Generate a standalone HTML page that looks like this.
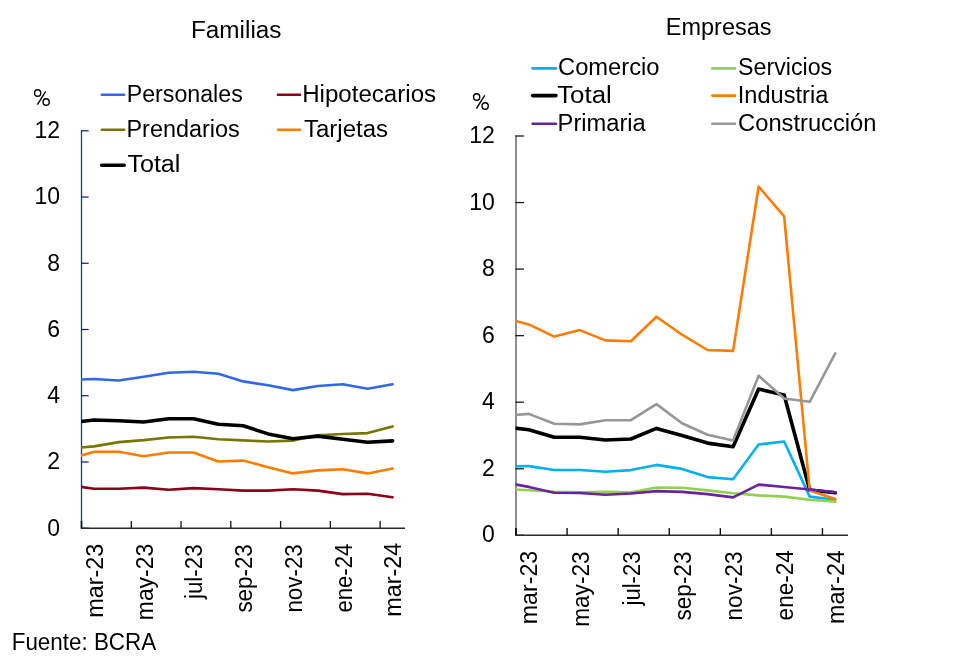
<!DOCTYPE html>
<html><head><meta charset="utf-8"><title>Chart</title>
<style>html,body{margin:0;padding:0;background:#fff;width:960px;height:667px;overflow:hidden}svg{display:block;will-change:transform}text{font-family:"Liberation Sans",sans-serif;fill:#000}</style>
</head><body>
<svg width="960" height="667" viewBox="0 0 960 667">
<rect width="960" height="667" fill="#fff"/>
<g fill="none" stroke="#000" stroke-width="1.4"><ellipse cx="37.65" cy="93.0" rx="3.1" ry="3.3"/><ellipse cx="46.15" cy="102.0" rx="3.1" ry="3.3"/><line x1="37.4" y1="104.6" x2="45.7" y2="91.4"/></g>
<g transform="translate(439,4)"><g fill="none" stroke="#000" stroke-width="1.4"><ellipse cx="37.65" cy="93.0" rx="3.1" ry="3.3"/><ellipse cx="46.15" cy="102.0" rx="3.1" ry="3.3"/><line x1="37.4" y1="104.6" x2="45.7" y2="91.4"/></g></g>
<line x1="81.5" y1="130.20" x2="81.5" y2="528.20" stroke="#1F3B7A" stroke-width="1.3"/>
<text x="60.0" y="535.5" font-size="23" text-anchor="end" >0</text>
<line x1="81.0" y1="528.20" x2="88.70" y2="528.20" stroke="#0C2068" stroke-width="1.2"/>
<text x="60.0" y="469.27" font-size="23" text-anchor="end" >2</text>
<line x1="81.0" y1="461.97" x2="88.70" y2="461.97" stroke="#0C2068" stroke-width="1.2"/>
<text x="60.0" y="403.03" font-size="23" text-anchor="end" >4</text>
<line x1="81.0" y1="395.73" x2="88.70" y2="395.73" stroke="#0C2068" stroke-width="1.2"/>
<text x="60.0" y="336.8" font-size="23" text-anchor="end" >6</text>
<line x1="81.0" y1="329.50" x2="88.70" y2="329.50" stroke="#0C2068" stroke-width="1.2"/>
<text x="60.0" y="270.57" font-size="23" text-anchor="end" >8</text>
<line x1="81.0" y1="263.27" x2="88.70" y2="263.27" stroke="#0C2068" stroke-width="1.2"/>
<text x="60.0" y="204.33" font-size="23" text-anchor="end" >10</text>
<line x1="81.0" y1="197.03" x2="88.70" y2="197.03" stroke="#0C2068" stroke-width="1.2"/>
<text x="60.0" y="138.1" font-size="23" text-anchor="end" >12</text>
<line x1="81.0" y1="130.80" x2="88.70" y2="130.80" stroke="#0C2068" stroke-width="1.2"/>
<line x1="80.80" y1="528.20" x2="405.00" y2="528.20" stroke="#2B2B2B" stroke-width="1.4"/>
<line x1="81.50" y1="521.00" x2="81.50" y2="528.20" stroke="#111" stroke-width="1.3"/>
<line x1="131.27" y1="521.00" x2="131.27" y2="528.20" stroke="#111" stroke-width="1.3"/>
<line x1="181.04" y1="521.00" x2="181.04" y2="528.20" stroke="#111" stroke-width="1.3"/>
<line x1="230.81" y1="521.00" x2="230.81" y2="528.20" stroke="#111" stroke-width="1.3"/>
<line x1="280.58" y1="521.00" x2="280.58" y2="528.20" stroke="#111" stroke-width="1.3"/>
<line x1="330.35" y1="521.00" x2="330.35" y2="528.20" stroke="#111" stroke-width="1.3"/>
<line x1="380.12" y1="521.00" x2="380.12" y2="528.20" stroke="#111" stroke-width="1.3"/>
<line x1="81.5" y1="521.00" x2="81.5" y2="528.20" stroke="#111" stroke-width="1.4"/>
<line x1="516.0" y1="135.40" x2="516.0" y2="535.30" stroke="#727272" stroke-width="1.6"/>
<text x="494.9" y="542.3" font-size="23" text-anchor="end" >0</text>
<line x1="515.4" y1="535.30" x2="523.90" y2="535.30" stroke="#1A1A1A" stroke-width="1.3"/>
<text x="494.9" y="475.75" font-size="23" text-anchor="end" >2</text>
<line x1="515.4" y1="468.75" x2="523.90" y2="468.75" stroke="#1A1A1A" stroke-width="1.3"/>
<text x="494.9" y="409.2" font-size="23" text-anchor="end" >4</text>
<line x1="515.4" y1="402.20" x2="523.90" y2="402.20" stroke="#1A1A1A" stroke-width="1.3"/>
<text x="494.9" y="342.65" font-size="23" text-anchor="end" >6</text>
<line x1="515.4" y1="335.65" x2="523.90" y2="335.65" stroke="#1A1A1A" stroke-width="1.3"/>
<text x="494.9" y="276.1" font-size="23" text-anchor="end" >8</text>
<line x1="515.4" y1="269.10" x2="523.90" y2="269.10" stroke="#1A1A1A" stroke-width="1.3"/>
<text x="494.9" y="209.55" font-size="23" text-anchor="end" >10</text>
<line x1="515.4" y1="202.55" x2="523.90" y2="202.55" stroke="#1A1A1A" stroke-width="1.3"/>
<text x="494.9" y="143.0" font-size="23" text-anchor="end" >12</text>
<line x1="515.4" y1="136.00" x2="523.90" y2="136.00" stroke="#1A1A1A" stroke-width="1.3"/>
<line x1="515.30" y1="535.30" x2="848.00" y2="535.30" stroke="#2B2B2B" stroke-width="1.4"/>
<line x1="516.00" y1="528.10" x2="516.00" y2="535.30" stroke="#111" stroke-width="1.4"/>
<line x1="567.08" y1="528.10" x2="567.08" y2="535.30" stroke="#111" stroke-width="1.4"/>
<line x1="618.15" y1="528.10" x2="618.15" y2="535.30" stroke="#111" stroke-width="1.4"/>
<line x1="669.23" y1="528.10" x2="669.23" y2="535.30" stroke="#111" stroke-width="1.4"/>
<line x1="720.31" y1="528.10" x2="720.31" y2="535.30" stroke="#111" stroke-width="1.4"/>
<line x1="771.38" y1="528.10" x2="771.38" y2="535.30" stroke="#111" stroke-width="1.4"/>
<line x1="822.46" y1="528.10" x2="822.46" y2="535.30" stroke="#111" stroke-width="1.4"/>
<line x1="516.0" y1="528.10" x2="516.0" y2="535.30" stroke="#111" stroke-width="1.6"/>
<text id="t_L0" x="0" y="0" font-size="23.5" textLength="74.00" lengthAdjust="spacingAndGlyphs" transform="translate(102.74,617.80) rotate(-90)">mar-23</text>
<text id="t_R0" x="0" y="0" font-size="23.5" textLength="73.40" lengthAdjust="spacingAndGlyphs" transform="translate(537.47,624.20) rotate(-90)">mar-23</text>
<text id="t_L1" x="0" y="0" font-size="23.5" textLength="76.40" lengthAdjust="spacingAndGlyphs" transform="translate(152.51,620.20) rotate(-90)">may-23</text>
<text id="t_R1" x="0" y="0" font-size="23.5" textLength="75.40" lengthAdjust="spacingAndGlyphs" transform="translate(588.55,626.80) rotate(-90)">may-23</text>
<text id="t_L2" x="0" y="0" font-size="23.5" textLength="54.60" lengthAdjust="spacingAndGlyphs" transform="translate(202.28,599.00) rotate(-90)">jul-23</text>
<text id="t_R2" x="0" y="0" font-size="23.5" textLength="53.80" lengthAdjust="spacingAndGlyphs" transform="translate(639.62,605.40) rotate(-90)">jul-23</text>
<text id="t_L3" x="0" y="0" font-size="23.5" textLength="68.40" lengthAdjust="spacingAndGlyphs" transform="translate(252.05,612.60) rotate(-90)">sep-23</text>
<text id="t_R3" x="0" y="0" font-size="23.5" textLength="68.80" lengthAdjust="spacingAndGlyphs" transform="translate(690.70,620.40) rotate(-90)">sep-23</text>
<text id="t_L4" x="0" y="0" font-size="23.5" textLength="68.40" lengthAdjust="spacingAndGlyphs" transform="translate(301.82,612.60) rotate(-90)">nov-23</text>
<text id="t_R4" x="0" y="0" font-size="23.5" textLength="68.80" lengthAdjust="spacingAndGlyphs" transform="translate(741.78,620.40) rotate(-90)">nov-23</text>
<text id="t_L5" x="0" y="0" font-size="23.5" textLength="69.00" lengthAdjust="spacingAndGlyphs" transform="translate(351.59,612.60) rotate(-90)">ene-24</text>
<text id="t_R5" x="0" y="0" font-size="23.5" textLength="70.20" lengthAdjust="spacingAndGlyphs" transform="translate(792.85,620.40) rotate(-90)">ene-24</text>
<text id="t_L6" x="0" y="0" font-size="23.5" textLength="74.20" lengthAdjust="spacingAndGlyphs" transform="translate(401.36,616.80) rotate(-90)">mar-24</text>
<text id="t_R6" x="0" y="0" font-size="23.5" textLength="73.80" lengthAdjust="spacingAndGlyphs" transform="translate(843.93,624.00) rotate(-90)">mar-24</text>
<defs><clipPath id="cl"><rect x="81.10" y="100" width="340" height="440"/></clipPath><clipPath id="cr"><rect x="515.60" y="100" width="340" height="440"/></clipPath></defs>
<g fill="none" stroke-linejoin="round" stroke-linecap="round" clip-path="url(#cl)">
<polyline points="78.50,379.62 93.94,379.00 118.83,380.50 143.71,376.80 168.60,372.70 193.48,371.70 218.37,373.80 243.25,381.40 268.13,385.30 293.02,390.10 317.90,386.00 342.79,384.30 367.67,388.70 392.56,384.30" stroke="#3268E8" stroke-width="2.6"/>
<polyline points="78.50,486.57 93.94,488.80 118.83,488.80 143.71,487.60 168.60,489.70 193.48,488.10 218.37,489.30 243.25,490.60 268.13,490.60 293.02,489.30 317.90,490.60 342.79,494.10 367.67,493.80 392.56,497.30" stroke="#8C0019" stroke-width="2.6"/>
<polyline points="78.50,447.64 93.94,446.40 118.83,442.10 143.71,440.10 168.60,437.50 193.48,436.80 218.37,439.30 243.25,440.40 268.13,441.50 293.02,440.60 317.90,435.30 342.79,434.00 367.67,433.10 392.56,426.40" stroke="#767600" stroke-width="2.6"/>
<polyline points="78.50,456.39 93.94,451.80 118.83,451.80 143.71,456.20 168.60,452.50 193.48,452.50 218.37,461.50 243.25,460.60 268.13,467.20 293.02,473.40 317.90,470.40 342.79,469.30 367.67,473.40 392.56,468.40" stroke="#FF7C00" stroke-width="2.6"/>
<polyline points="78.50,421.86 93.94,420.00 118.83,420.70 143.71,422.00 168.60,418.80 193.48,418.80 218.37,424.20 243.25,425.80 268.13,433.90 293.02,438.80 317.90,436.10 342.79,439.20 367.67,442.30 392.56,440.90" stroke="#000000" stroke-width="3.6"/>
</g>
<g fill="none" stroke-linejoin="round" stroke-linecap="round" clip-path="url(#cr)">
<polyline points="513.00,466.22 528.77,466.10 554.31,470.00 579.85,470.00 605.38,471.80 630.92,470.10 656.46,464.90 682.00,468.90 707.54,477.10 733.08,479.30 758.62,444.50 784.15,441.50 809.69,496.60 835.23,499.80" stroke="#00B0F0" stroke-width="2.6"/>
<polyline points="513.00,489.44 528.77,490.30 554.31,491.70 579.85,492.30 605.38,491.90 630.92,492.20 656.46,487.50 682.00,487.80 707.54,490.40 733.08,493.30 758.62,495.40 784.15,496.60 809.69,499.80 835.23,501.60" stroke="#92D050" stroke-width="2.6"/>
<polyline points="513.00,427.95 528.77,429.80 554.31,437.30 579.85,437.30 605.38,440.00 630.92,439.00 656.46,428.40 682.00,435.60 707.54,443.10 733.08,446.70 758.62,389.00 784.15,395.00 809.69,490.00 835.23,492.80" stroke="#000000" stroke-width="3.6"/>
<polyline points="513.00,320.20 528.77,324.40 554.31,336.60 579.85,330.10 605.38,340.40 630.92,341.20 656.46,316.70 682.00,334.70 707.54,350.00 733.08,350.90 758.62,186.50 784.15,216.40 809.69,490.50 835.23,499.10" stroke="#FF7C00" stroke-width="2.6"/>
<polyline points="513.00,484.06 528.77,486.90 554.31,492.70 579.85,493.00 605.38,494.80 630.92,493.50 656.46,491.10 682.00,491.90 707.54,494.10 733.08,497.40 758.62,484.60 784.15,487.00 809.69,489.50 835.23,492.30" stroke="#6A22A0" stroke-width="2.6"/>
<polyline points="513.00,415.13 528.77,413.90 554.31,423.80 579.85,424.40 605.38,420.20 630.92,420.20 656.46,404.10 682.00,423.30 707.54,434.70 733.08,440.40 758.62,375.70 784.15,398.50 809.69,401.80 835.23,353.40" stroke="#979797" stroke-width="2.6"/>
</g>
<line x1="101.8" y1="94.8" x2="124.2" y2="94.8" stroke="#3268E8" stroke-width="2.6" stroke-linecap="round"/>
<line x1="278.0" y1="94.8" x2="300.0" y2="94.8" stroke="#8C0019" stroke-width="2.6" stroke-linecap="round"/>
<line x1="101.8" y1="129.8" x2="124.2" y2="129.8" stroke="#767600" stroke-width="2.6" stroke-linecap="round"/>
<line x1="278.0" y1="129.8" x2="300.0" y2="129.8" stroke="#FF7C00" stroke-width="2.6" stroke-linecap="round"/>
<line x1="101.8" y1="165.2" x2="124.2" y2="165.2" stroke="#000000" stroke-width="3.6" stroke-linecap="round"/>
<line x1="532.6" y1="68.4" x2="556.0" y2="68.4" stroke="#00B0F0" stroke-width="2.6" stroke-linecap="round"/>
<line x1="712.3" y1="68.4" x2="735.0" y2="68.4" stroke="#92D050" stroke-width="2.6" stroke-linecap="round"/>
<line x1="532.6" y1="95.6" x2="556.0" y2="95.6" stroke="#000000" stroke-width="3.6" stroke-linecap="round"/>
<line x1="712.3" y1="95.6" x2="735.0" y2="95.6" stroke="#FF7C00" stroke-width="2.6" stroke-linecap="round"/>
<line x1="532.6" y1="123.8" x2="556.0" y2="123.8" stroke="#6A22A0" stroke-width="2.6" stroke-linecap="round"/>
<line x1="712.3" y1="123.8" x2="735.0" y2="123.8" stroke="#979797" stroke-width="2.6" stroke-linecap="round"/>
<text id="t_Familias" x="191.00" y="37.70" font-size="23" textLength="90.50" lengthAdjust="spacingAndGlyphs">Familias</text>
<text id="t_Empresas" x="665.80" y="34.60" font-size="23" textLength="105.70" lengthAdjust="spacingAndGlyphs">Empresas</text>
<text id="t_Personales" x="126.70" y="101.80" font-size="23" textLength="116.10" lengthAdjust="spacingAndGlyphs">Personales</text>
<text id="t_Hipotecarios" x="302.20" y="101.80" font-size="23" textLength="133.90" lengthAdjust="spacingAndGlyphs">Hipotecarios</text>
<text id="t_Prendarios" x="126.50" y="136.80" font-size="23" textLength="113.20" lengthAdjust="spacingAndGlyphs">Prendarios</text>
<text id="t_Tarjetas" x="304.00" y="136.80" font-size="23" textLength="84.00" lengthAdjust="spacingAndGlyphs">Tarjetas</text>
<text id="t_TotalL" x="127.40" y="172.20" font-size="23" textLength="53.00" lengthAdjust="spacingAndGlyphs">Total</text>
<text id="t_Comercio" x="558.00" y="75.40" font-size="23" textLength="101.50" lengthAdjust="spacingAndGlyphs">Comercio</text>
<text id="t_Servicios" x="738.00" y="75.40" font-size="23" textLength="94.25" lengthAdjust="spacingAndGlyphs">Servicios</text>
<text id="t_TotalR" x="557.20" y="102.60" font-size="23" textLength="54.60" lengthAdjust="spacingAndGlyphs">Total</text>
<text id="t_Industria" x="737.80" y="102.60" font-size="23" textLength="90.45" lengthAdjust="spacingAndGlyphs">Industria</text>
<text id="t_Primaria" x="557.60" y="130.80" font-size="23" textLength="88.10" lengthAdjust="spacingAndGlyphs">Primaria</text>
<text id="t_Construccion" x="738.10" y="130.80" font-size="23" textLength="138.30" lengthAdjust="spacingAndGlyphs">Construcción</text>
<text id="t_Fuente" x="11.70" y="650.00" font-size="23" textLength="144.50" lengthAdjust="spacingAndGlyphs">Fuente: BCRA</text>
</svg>
</body></html>
